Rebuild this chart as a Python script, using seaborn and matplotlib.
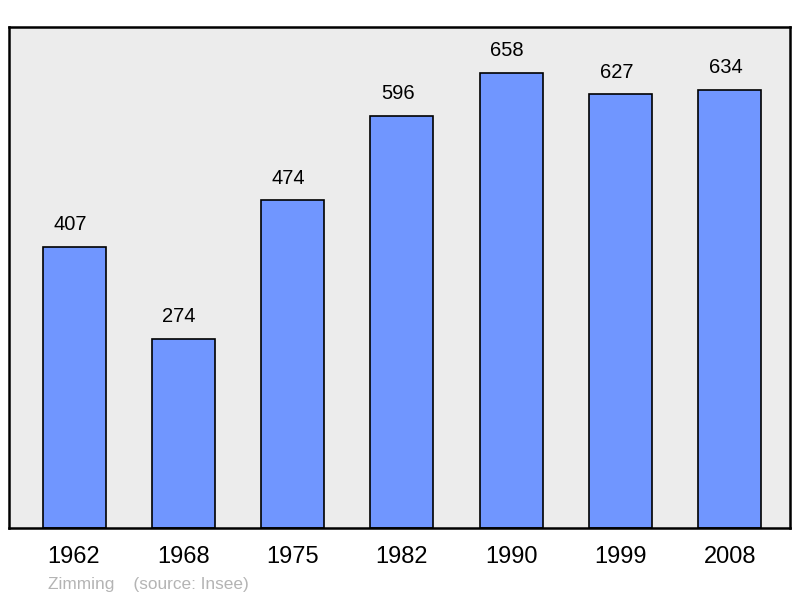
import matplotlib
matplotlib.use("Agg")
import matplotlib.pyplot as plt
import seaborn as sns
import pandas as pd

years = ["1962", "1968", "1975", "1982", "1990", "1999", "2008"]
population = [407, 274, 474, 596, 658, 627, 634]
credit = "Zimming    (source: Insee)"

df = pd.DataFrame({"year": years, "pop": population})

sns.set_theme(style="white")
plt.rcParams["font.family"] = ["Liberation Sans", "DejaVu Sans"]

fig = plt.figure(figsize=(8, 5.98), dpi=100)
ax = fig.add_axes([9 / 800, 70 / 598, 781 / 800, 501 / 598])
ax.set_facecolor("#ececec")

sns.barplot(data=df, x="year", y="pop", color="#7096ff", saturation=1,
            width=0.576, edgecolor="black", linewidth=1.2, ax=ax)

# value labels sit a little left of the bar centre in the original
for i, v in enumerate(population):
    ax.annotate(str(v), (i, v), xytext=(-3, 9), textcoords="offset points",
                ha="center", va="bottom", fontsize=14.5, color="black")

ax.set_xlim(-0.595, 6.55)
ax.set_ylim(0, 724.5)
ax.set_yticks([])
ax.set_xlabel("")
ax.set_ylabel("")
ax.tick_params(axis="x", length=0, pad=13, labelsize=17, colors="black")
for s in ax.spines.values():
    s.set_visible(True)
    s.set_color("black")
    s.set_linewidth(1.8)

fig.text(48 / 800, 1 - 584 / 598, credit, fontsize=12.4, color="#b4b4b4",
         ha="left", va="center")

fig.savefig("out.png", dpi=100)
plt.close(fig)
